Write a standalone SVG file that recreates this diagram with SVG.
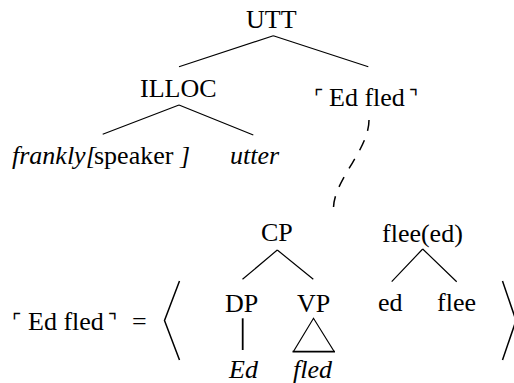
<svg xmlns="http://www.w3.org/2000/svg" width="514" height="383" viewBox="0 0 514 383">
<rect width="514" height="383" fill="#fff"/>
<g id="connectors" stroke="#000" fill="none" stroke-width="1.2">
<path d="M273.3,35.7 L179,66.7 M273.3,35.7 L368.3,66.7"/>
<path d="M179,105 L102.7,134.3 M179,105 L253.3,135"/>
<path d="M369,120 C369,150 333.5,180 333.5,208.5" stroke-width="1.5" stroke-dasharray="11 10"/>
<path d="M277.3,250 L242.5,279.3 M277.3,250 L313.3,279.3"/>
<path d="M422.7,249 L391.7,281.7 M422.7,249 L456.7,281.7"/>
<path d="M242.7,318.3 L242.7,350" stroke-width="1.8"/>
<path d="M293.3,351.7 L313.5,318.3 L334.3,351.7"/>
<path d="M292.5,351.7 L335,351.7" stroke-width="1.8"/>
<path d="M179.5,281 L164.5,320.5 L179.5,360" stroke-width="1.5"/>
<path d="M502.5,281 L516,320.5 L502.5,360" stroke-width="1.5"/>
</g>
<text font-family="'Liberation Serif'" font-size="26" x="246" y="28">UTT</text>
<text font-family="'Liberation Serif'" font-size="26" x="140" y="97">ILLOC</text>
<text font-family="'DejaVu Sans'" font-size="20" x="314" y="104">⌜</text>
<text font-family="'Liberation Serif'" font-size="26" x="329" y="106">Ed fled</text>
<text font-family="'DejaVu Sans'" font-size="20" x="409" y="104">⌝</text>
<text font-family="'Liberation Serif'" font-size="26" font-style="italic" x="12" y="164">frankly[</text>
<text font-family="'Liberation Serif'" font-size="26" x="94" y="164">speaker</text>
<text font-family="'Liberation Serif'" font-size="26" font-style="italic" x="180" y="164">]</text>
<text font-family="'Liberation Serif'" font-size="26" font-style="italic" x="230" y="164">utter</text>
<text font-family="'DejaVu Sans'" font-size="20" x="12" y="328">⌜</text>
<text font-family="'Liberation Serif'" font-size="26" x="28" y="330">Ed fled</text>
<text font-family="'DejaVu Sans'" font-size="20" x="108" y="328">⌝</text>
<text font-family="'Liberation Serif'" font-size="26" x="132" y="330">=</text>
<text font-family="'Liberation Serif'" font-size="26" x="261" y="241">CP</text>
<text font-family="'Liberation Serif'" font-size="26" x="382" y="242">flee(ed)</text>
<text font-family="'Liberation Serif'" font-size="26" x="225" y="312">DP</text>
<text font-family="'Liberation Serif'" font-size="26" x="297" y="312">VP</text>
<text font-family="'Liberation Serif'" font-size="26" x="378" y="311">ed</text>
<text font-family="'Liberation Serif'" font-size="26" x="437" y="311">flee</text>
<text font-family="'Liberation Serif'" font-size="26" font-style="italic" x="229" y="378">Ed</text>
<text font-family="'Liberation Serif'" font-size="26" font-style="italic" x="293" y="378">fled</text>
</svg>
